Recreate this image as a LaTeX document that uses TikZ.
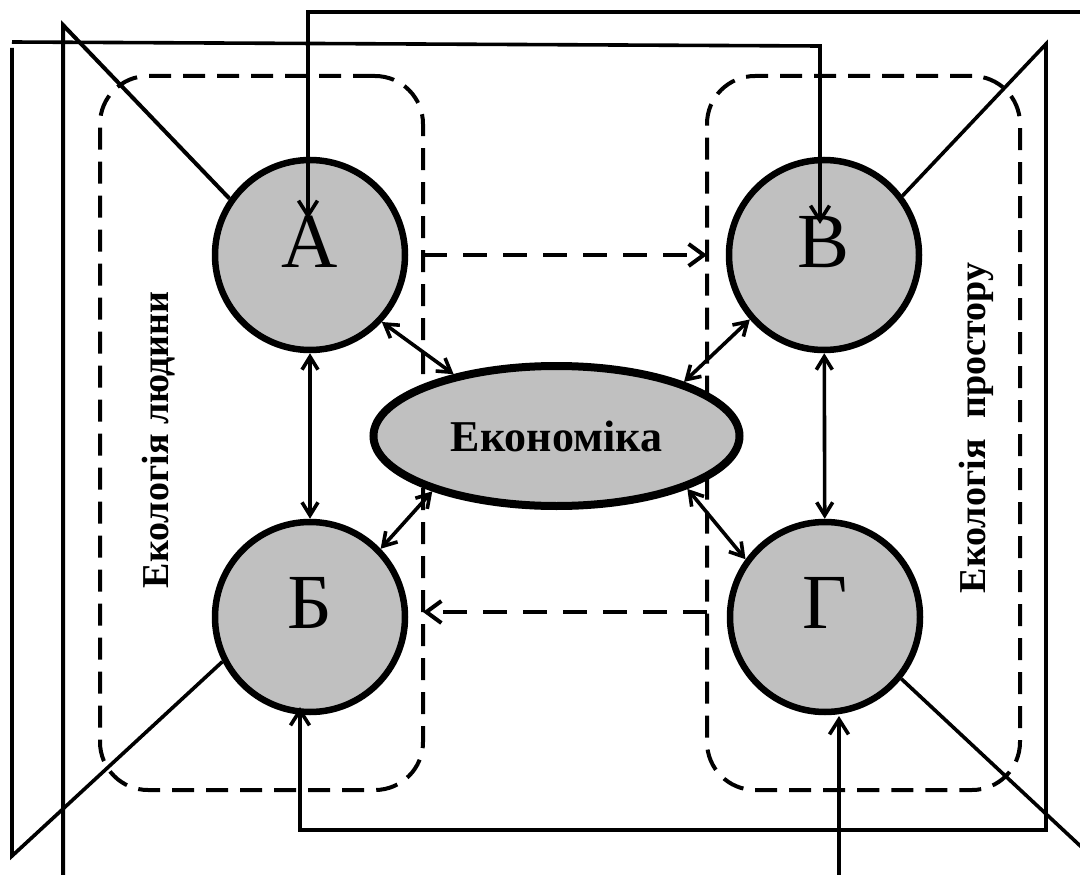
\documentclass[tikz,border=0pt]{standalone}
\usepackage{fontspec}
\setmainfont{Liberation Serif}
\usetikzlibrary{arrows.meta,shapes.geometric,calc}
\definecolor{nodegray}{RGB}{192,192,192}
\begin{document}
\begin{tikzpicture}[x=1pt,y=-1pt,
  circ/.style={circle,draw,line width=6.5pt,fill=nodegray,minimum size=190pt,inner sep=0pt,outer sep=3.25pt},
  ell/.style={ellipse,draw,line width=8pt,fill=nodegray,minimum width=366pt,minimum height=140pt,inner sep=0pt,outer sep=4pt,font=\bfseries\fontsize{44}{44}\selectfont},
  zone/.style={draw,line width=4pt,dash pattern=on 22pt off 12pt,rounded corners=48pt,inner sep=0pt,outer sep=0pt},
  letter/.style={anchor=base,font=\fontsize{78}{78}\selectfont,inner sep=0pt},
  vlabel/.style={rotate=90,font=\bfseries\fontsize{38}{38}\selectfont,inner sep=0pt},
  conn/.style={line width=3.6pt},
  arr/.style={-{Straight Barb[length=15pt,width=19pt]}},
  dbl/.style={{Straight Barb[length=13pt,width=16pt]}-{Straight Barb[length=13pt,width=16pt]}},
  dasharr/.style={line width=4pt,dash pattern=on 24pt off 16pt,-{Straight Barb[length=15pt,width=22pt]}}
]
\useasboundingbox (0,0) rectangle (1080,875);
\clip (0,0) rectangle (1080,875);

% zones
\node[zone,minimum width=323pt,minimum height=714pt] (L) at (261.5,433) {};
\node[zone,minimum width=313pt,minimum height=714pt] (R) at (863.5,433) {};

% zone labels
\node[vlabel] (Ltxt) at (159,440) {Екологія людини};
\node[vlabel] (Rtxt) at (976,428) {Екологія\hspace{0.3em} простору};

% main nodes
\node[circ] (A) at (310,255) {};
\node[circ] (B) at (824,255) {};
\node[circ] (Bb) at (310,617) {};
\node[circ] (G) at (825,617) {};
\node[ell] (E) at (556.5,436) {Економіка};

\node[letter] (Al) at ($(A)+(0,12)$) {А};
\node[letter] (Bl) at ($(B)+(0,12)$) {В};
\node[letter] (Bbl) at ($(Bb)+(0,11)$) {Б};
\node[letter] (Gl) at ($(G)+(0,11)$) {Г};

% dashed arrows between zones
\draw[dasharr] (L.east |- A) -- (R.west |- A);
\draw[dasharr] ($(R.west |- G)+(0,-5)$) -- ($(L.east |- Bb)+(0,-5)$);

% vertical double arrows
\draw[conn,dbl] (A) -- (Bb);
\draw[conn,dbl] (B) -- (G);

% double arrows with economy
\draw[conn,dbl] (A.-43) -- (E.149.5);
\draw[conn,dbl] (B.221.6) -- (E.23);
\draw[conn,dbl] (Bb.44) -- (E.204);
\draw[conn,dbl] (G.144) -- (E.-22);

% outer connectors
\coordinate (t1) at (1090,12);
\coordinate (t2) at (308,12);
\draw[conn,arr] (t1) -- (t2) -- ($(A)+(-2,-36)$);

\coordinate (h1) at (12,42);
\coordinate (h2) at (820,46);
\draw[conn,arr] (h1) -- (h2) -- ($(B)+(-4,-31)$);

\coordinate (v1) at (12,48);
\coordinate (v2) at (12,856);
\draw[conn] (v1) -- (v2) -- (Bb.207);

\coordinate (w1) at (63,890);
\coordinate (w2) at (63,25);
\draw[conn,line width=4pt] (w1) -- (w2) -- (A.145);

\coordinate (r1) at (1046,44);
\coordinate (r2) at (1046,830);
\coordinate (r3) at (300,830);
\draw[conn,arr] (B.37) -- (r1) -- (r2) -- (r3) -- ($(Bb)+(-10,90)$);

\coordinate (g1) at (839,890);
\draw[conn,arr] (g1) -- ($(G)+(14,99)$);

\coordinate (g2) at (1090,855);
\draw[conn] (G.-39) -- (g2);
\end{tikzpicture}
\end{document}
